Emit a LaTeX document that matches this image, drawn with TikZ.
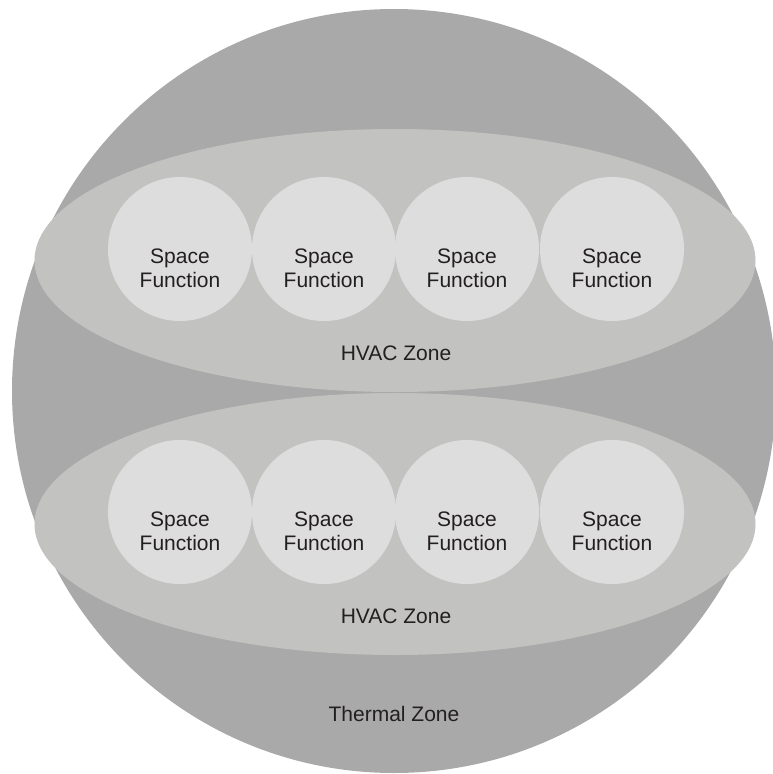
\documentclass[tikz,border=0pt]{standalone}
\usepackage{fontspec}
\setmainfont{Liberation Sans}
\definecolor{thermalgray}{RGB}{169,169,169}
\definecolor{hvacgray}{RGB}{194,194,193}
\definecolor{spacegray}{RGB}{221,221,221}
\definecolor{labelgray}{RGB}{35,31,32}
\begin{document}
\begin{tikzpicture}[x=1pt,y=1pt]
		\tikzstyle{every node}+=[inner sep=0pt, text=labelgray, font=\fontsize{21}{24}\selectfont, align=center]
		\useasboundingbox (0,0) rectangle (772,-774);
		\fill [thermalgray] (394,-391) circle (382pt);
		\node (thermal) at (394,-713.5) {Thermal Zone};
		\fill [hvacgray] (395,-260.5) ellipse (360.5pt and 131.5pt);
		\node (hvacA) at (396,-353) {HVAC Zone};
		\fill [hvacgray] (395,-524) ellipse (360.5pt and 131pt);
		\node (hvacB) at (396,-616) {HVAC Zone};
		\fill [spacegray] (180,-249) circle (72pt);
		\node (spaceA1) at (180,-268) {Space\\Function};
		\fill [spacegray] (324,-249) circle (72pt);
		\node (spaceA2) at (324,-268) {Space\\Function};
		\fill [spacegray] (467,-249) circle (72pt);
		\node (spaceA3) at (467,-268) {Space\\Function};
		\fill [spacegray] (612,-249) circle (72pt);
		\node (spaceA4) at (612,-268) {Space\\Function};
		\fill [spacegray] (180,-512) circle (72pt);
		\node (spaceB1) at (180,-531) {Space\\Function};
		\fill [spacegray] (324,-512) circle (72pt);
		\node (spaceB2) at (324,-531) {Space\\Function};
		\fill [spacegray] (467,-512) circle (72pt);
		\node (spaceB3) at (467,-531) {Space\\Function};
		\fill [spacegray] (612,-512) circle (72pt);
		\node (spaceB4) at (612,-531) {Space\\Function};
\end{tikzpicture}
\end{document}
